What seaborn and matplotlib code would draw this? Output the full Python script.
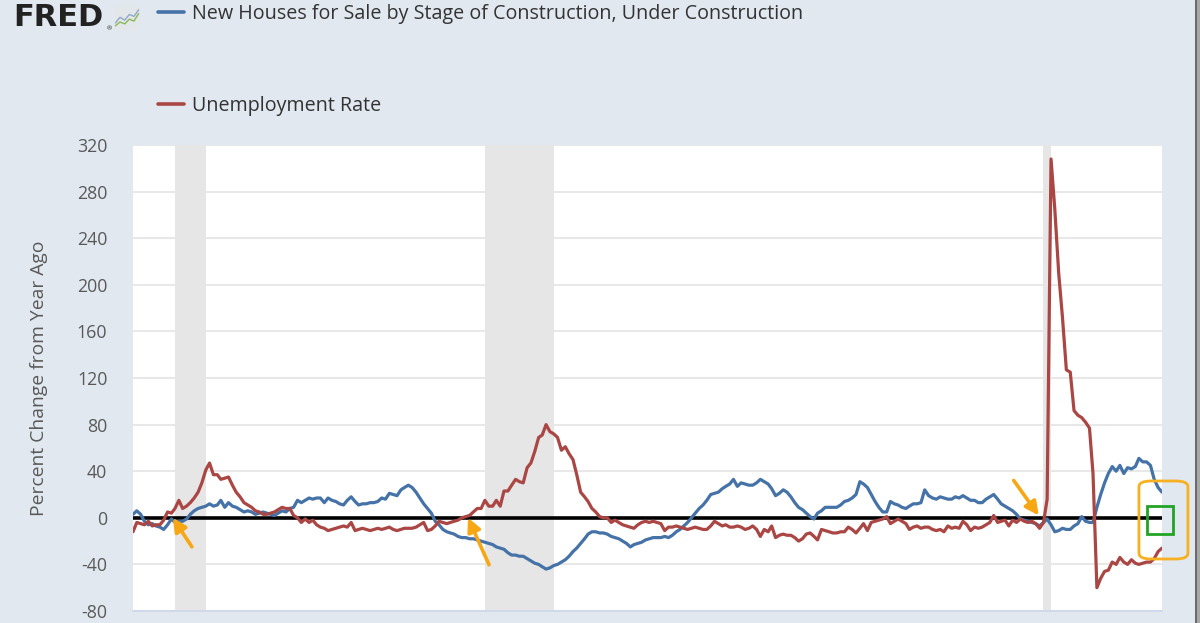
import pandas as pd
import matplotlib
matplotlib.use("Agg")
import matplotlib.pyplot as plt
from matplotlib.lines import Line2D
from matplotlib.patches import FancyBboxPatch, Rectangle
import seaborn as sns

# Monthly data, 2000-04 .. 2022-09 (percent change from year ago)
start_month = "2000-04-01"
end_month = "2022-09-01"

under_construction = [
    3, 6, 3, -3, -6, -5, -7, -8, -10, -6, -1, -4,
    -3, -3, -1, 3, 6, 8, 9, 10, 12, 10, 11, 15,
    9, 13, 10, 9, 7, 5, 6, 5, 3, 4, 5, 4,
    3, 2, 4, 6, 5, 8, 9, 15, 13, 15, 17, 16,
    17, 17, 13, 17, 15, 14, 12, 11, 15, 18, 14, 11,
    12, 12, 13, 13, 14, 17, 16, 21, 20, 19, 24, 26,
    28, 26, 22, 17, 12, 8, 4, -3, -6, -10, -12, -13,
    -14, -16, -17, -17, -18, -18, -19, -20, -21, -22, -23, -25,
    -26, -27, -30, -32, -32, -33, -33, -35, -37, -39, -40, -42,
    -44, -43, -41, -40, -38, -36, -33, -29, -26, -22, -18, -14,
    -12, -12, -13, -13, -14, -16, -17, -18, -20, -22, -25, -23,
    -22, -21, -19, -18, -17, -17, -17, -16, -17, -15, -12, -10,
    -7, -4, 0, 4, 8, 11, 15, 20, 21, 22, 25, 27,
    29, 33, 27, 30, 29, 28, 28, 30, 33, 31, 29, 25,
    19, 21, 24, 22, 18, 13, 9, 7, 4, 1, -1, 4,
    6, 9, 9, 9, 9, 11, 14, 15, 17, 20, 31, 29,
    26, 20, 14, 9, 5, 5, 14, 12, 11, 9, 8, 10,
    12, 12, 13, 24, 19, 17, 16, 18, 17, 16, 16, 18,
    17, 19, 17, 15, 15, 13, 13, 16, 18, 20, 16, 12,
    10, 8, 6, 3, -1, -2, -3, -4, -5, -7, -4, -1,
    -6, -12, -11, -9, -10, -10, -7, -5, 1, -3, -4, -4,
    9, 20, 30, 38, 44, 40, 45, 38, 43, 42, 44, 51,
    48, 48, 45, 33, 26, 22,
]

unemployment = [
    -12, -4, -5, -6, -3, -7, -6, -6, -2, 5, 4, 8,
    15, 8, 10, 13, 17, 22, 30, 41, 47, 37, 37, 33,
    34, 35, 28, 22, 18, 13, 11, 9, 6, 5, 3, 3,
    4, 5, 7, 9, 8, 8, 2, 0, -4, -1, -4, -2,
    -6, -8, -9, -11, -10, -9, -8, -7, -8, -4, -11, -10,
    -9, -10, -11, -10, -9, -10, -9, -8, -10, -11, -10, -9,
    -9, -9, -8, -6, -4, -11, -10, -7, -3, -4, -5, -4,
    -3, -2, 0, 1, 2, 5, 8, 8, 15, 10, 10, 15,
    10, 23, 23, 28, 33, 31, 30, 43, 47, 57, 69, 71,
    80, 74, 72, 69, 58, 61, 55, 50, 37, 22, 18, 14,
    8, 5, 1, 0, 0, -4, -2, -4, -6, -7, -8, -9,
    -6, -4, -3, -4, -3, -4, -5, -11, -8, -8, -7, -8,
    -9, -10, -9, -8, -9, -10, -10, -7, -3, -5, -7, -6,
    -8, -8, -7, -8, -10, -9, -7, -10, -16, -10, -12, -7,
    -17, -15, -14, -15, -15, -17, -20, -18, -14, -13, -16, -19,
    -10, -11, -12, -13, -13, -12, -12, -8, -10, -13, -9, -5,
    -11, -4, -3, -2, -1, 1, -5, -3, -1, -3, -5, -10,
    -8, -7, -9, -8, -8, -10, -11, -10, -12, -7, -9, -8,
    -9, -3, -6, -11, -8, -9, -8, -6, -4, 2, -4, -3,
    -2, -7, -2, -4, -1, -3, -4, -3, -5, -9, -4, 16,
    308, 265, 210, 172, 127, 125, 92, 88, 86, 82, 77, 38,
    -60, -52, -46, -45, -38, -40, -34, -38, -40, -36, -39, -40,
    -39, -38, -38, -35, -29, -26,
]

series_names = [
    "New Houses for Sale by Stage of Construction, Under Construction",
    "Unemployment Rate",
]
series_colors = ["#4572a7", "#aa4643"]

recessions = [
    ("2001-03-01", "2001-11-01"),
    ("2007-12-01", "2009-06-01"),
    ("2020-02-01", "2020-04-01"),
]

y_ticks = [-80, -40, 0, 40, 80, 120, 160, 200, 240, 280, 320]
x_ticks = ["2005-01-01", "2010-01-01", "2015-01-01", "2020-01-01"]

# arrows drawn on the picture: head (date, value) and tail offset in pixels
arrows = [
    ("2001-02-12", 0, 19, -29),
    ("2007-07-20", 0, 21, -47),
    ("2019-12-25", 2, -25, 35),
]

# small FRED logo icon lines
icon_x = [0, 1, 2, 3, 4, 5]
icon_blue = [1.0, 2.2, 1.6, 2.8, 2.4, 3.8]
icon_green = [0.4, 1.2, 0.8, 1.8, 1.4, 3.0]

sns.set_theme(style="white")
plt.rcParams["font.family"] = ["Open Sans", "DejaVu Sans"]

dates = pd.date_range(start_month, end_month, freq="MS")
df = pd.DataFrame({
    "date": list(dates) * 2,
    "value": under_construction + unemployment,
    "series": [series_names[0]] * len(dates) + [series_names[1]] * len(dates),
})

W, H = 1200, 623
bg = "#e1e8f0"
fig = plt.figure(figsize=(W / 100, H / 100), dpi=100)
fig.patch.set_facecolor(bg)
ax = fig.add_axes([133 / W, 12 / H, 1029 / W, 466 / H])
ax.set_facecolor("white")

for a, b in recessions:
    ax.axvspan(pd.Timestamp(a), pd.Timestamp(b), color="#e6e6e6", lw=0, zorder=0.5)

ax.axhline(0, color="black", lw=2.6, zorder=1.5)

sns.lineplot(data=df, x="date", y="value", hue="series", hue_order=series_names,
             palette=series_colors, lw=2.3, legend=False, ax=ax, zorder=2)

ax.set_xlim(dates[0], dates[-1])
ax.set_ylim(-80, 320)
ax.set_yticks(y_ticks)
ax.set_yticklabels([str(t) for t in y_ticks], fontsize=12.8, color="#595959")
ax.grid(axis="y", color="#e6e6e6", lw=1.3)
ax.set_axisbelow(True)
ax.set_xticks(pd.to_datetime(x_ticks))
ax.set_xticklabels([])
ax.tick_params(axis="x", length=16, width=1.2, color="#ccd6eb", direction="out")
ax.tick_params(axis="y", length=0, pad=18.5)
for s in ["top", "right", "left"]:
    ax.spines[s].set_visible(False)
ax.spines["bottom"].set_color("#ccd6eb")
ax.spines["bottom"].set_linewidth(1.2)
ax.set_xlabel("")
ax.set_ylabel("Percent Change from Year Ago", fontsize=13.9, color="#595959", labelpad=21)

# hand drawn highlights
for d, v, dx, dy in arrows:
    ax.annotate("", xy=(pd.Timestamp(d), v), xytext=(dx, dy), textcoords="offset pixels",
                arrowprops=dict(arrowstyle="-|>", color="#f7a614", lw=2.6,
                                mutation_scale=20, shrinkA=0, shrinkB=0), zorder=5)

ax.add_patch(FancyBboxPatch((0.9776, 0.1116), 0.0476, 0.1674, transform=ax.transAxes,
                            boxstyle="round,pad=0,rounding_size=0.012",
                            fill=False, ec="#f7b01f", lw=2.0, clip_on=False, zorder=6))
ax.add_patch(Rectangle((0.9854, 0.1652), 0.0253, 0.0601, transform=ax.transAxes,
                       fill=False, ec="#22a325", lw=2.0, clip_on=False, zorder=6))

# legend entries at the top
leg_y = [1 - 14 / H, 1 - 106 / H]
for name, col, y in zip(series_names, series_colors, leg_y):
    h = Line2D([], [], color=col, lw=2.6)
    leg = fig.legend([h], [name], loc="center left", bbox_to_anchor=(148 / W, y),
                     frameon=False, borderpad=0, handlelength=1.3, handletextpad=0.45,
                     fontsize=14.2, labelcolor="#333333")

# FRED logo
fig.text(13 / W, 1 - 17 / H, "FRED", fontsize=22, fontweight="heavy", color="#222222",
         family="DejaVu Sans", va="center", ha="left")
fig.text(107 / W, 1 - 29 / H, "\u00ae", fontsize=4.5, color="#222222", va="center", ha="left")
icon = fig.add_axes([114 / W, 1 - 30 / H, 26 / W, 24 / H])
icon.set_facecolor("#e4e7ea")
icon.plot(icon_x, icon_blue, color="#8fa9c8", lw=1.0)
icon.plot(icon_x, icon_green, color="#8ab85a", lw=1.0)
icon.set_xlim(-0.3, 5.3)
icon.set_ylim(-0.5, 4.6)
icon.set_xticks([])
icon.set_yticks([])
for s in icon.spines.values():
    s.set_visible(False)

# right edge strip
fig.add_artist(Rectangle((1195 / W, 0), 2 / W, 1, transform=fig.transFigure,
                         color="#6b6b6b", lw=0))
fig.add_artist(Rectangle((1197 / W, 0), 3 / W, 1, transform=fig.transFigure,
                         color="#a8a8a8", lw=0))

fig.savefig("out.png", dpi=100, facecolor=fig.get_facecolor())
